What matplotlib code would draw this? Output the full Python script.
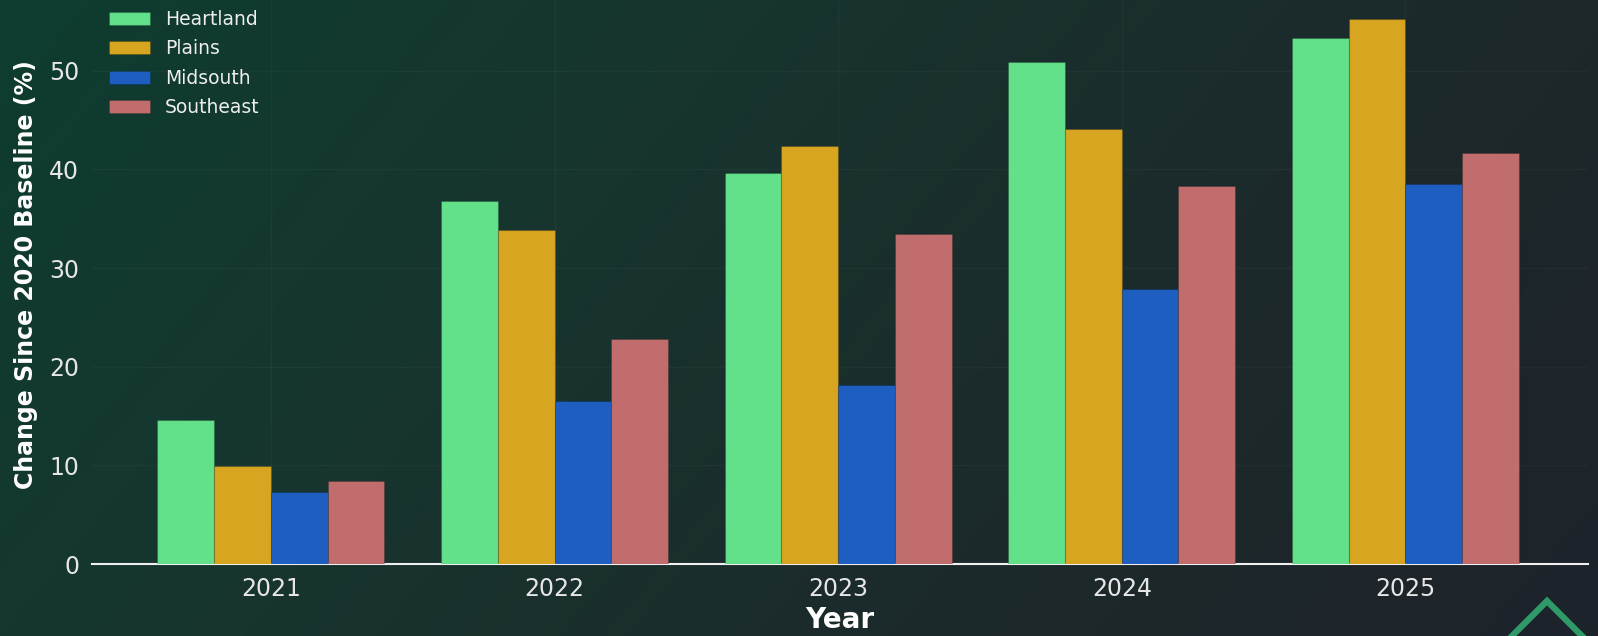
import numpy as np
import matplotlib
matplotlib.use("Agg")
import matplotlib.pyplot as plt
from matplotlib.colors import LinearSegmentedColormap
from matplotlib.lines import Line2D

years = ["2021", "2022", "2023", "2024", "2025"]
regions = ["Heartland", "Plains", "Midsouth", "Southeast"]
heartland = [14.6, 36.8, 39.6, 50.9, 53.3]
plains = [9.9, 33.9, 42.4, 44.1, 55.3]
midsouth = [7.25, 16.5, 18.1, 27.9, 38.5]
southeast = [8.4, 22.8, 33.5, 38.3, 41.7]
series = [heartland, plains, midsouth, southeast]
colors = ["#63E08A", "#D8A521", "#1D5EC0", "#C16D6D"]

W, H = 1598, 636
fig = plt.figure(figsize=(W / 100, H / 100), dpi=100)

# background gradient
bg = fig.add_axes([0, 0, 1, 1], zorder=-10)
bg.axis("off")
gx, gy = np.meshgrid(np.linspace(0, 1, 400), np.linspace(0, 1, 200))
t = np.clip(0.75 * gx + 0.25 * gy, 0, 1)
cmap = LinearSegmentedColormap.from_list("bg", ["#0E3D2F", "#17352F", "#1C2A2B", "#1E232A"])
bg.imshow(t, cmap=cmap, aspect="auto", extent=[0, 1, 0, 1], origin="upper")

ax_h_px = 564 + 14
ax = fig.add_axes([91.7 / W, 72 / H, (1588 - 91.7) / W, ax_h_px / H])
ax.set_facecolor("none")

x = np.arange(len(years))
width = 0.2
for i, (name, vals, c) in enumerate(zip(regions, series, colors)):
    ax.bar(x + (i - 1.5) * width, vals, width, color=c, label=name,
           edgecolor=(0, 0, 0, 0.15), linewidth=0.8, zorder=3)

ax.set_xlim(-0.632, 4.644)
ax.set_ylim(0, 58.6)
ax.set_xticks(x)
ax.set_xticklabels(years)
ax.set_yticks([0, 10, 20, 30, 40, 50])
ax.tick_params(axis="both", length=0, pad=9, labelsize=17, colors="#E6E6E6")
ax.grid(True, color="#FFFFFF", alpha=0.03, linewidth=1, zorder=0)
for s in ["top", "right", "left"]:
    ax.spines[s].set_visible(False)
ax.spines["bottom"].set_color("#F0F0F0")
ax.spines["bottom"].set_linewidth(1.5)

ax.set_xlabel("Year", fontsize=20, fontweight="bold", color="#FFFFFF", labelpad=4)
ax.set_ylabel("Change Since 2020 Baseline (%)", fontsize=17, fontweight="bold",
              color="#FFFFFF", labelpad=8)

leg = ax.legend(loc="upper left", bbox_to_anchor=(0.0, 570.8 / ax_h_px), frameon=False,
                fontsize=13.5, labelcolor="#EEEEEE", handlelength=2.2,
                labelspacing=0.55)

# decorative diamond outline at bottom right
ax_x, ax_y = 1547, 601
pts_x = [ax_x - 80, ax_x, ax_x + 80]
pts_y = [ax_y + 80, ax_y, ax_y + 80]
fig.add_artist(Line2D([p / W for p in pts_x], [(H - p) / H for p in pts_y],
                      color="#2E9A68", linewidth=4.5, solid_joinstyle="miter"))

fig.savefig("out.png", dpi=100)
